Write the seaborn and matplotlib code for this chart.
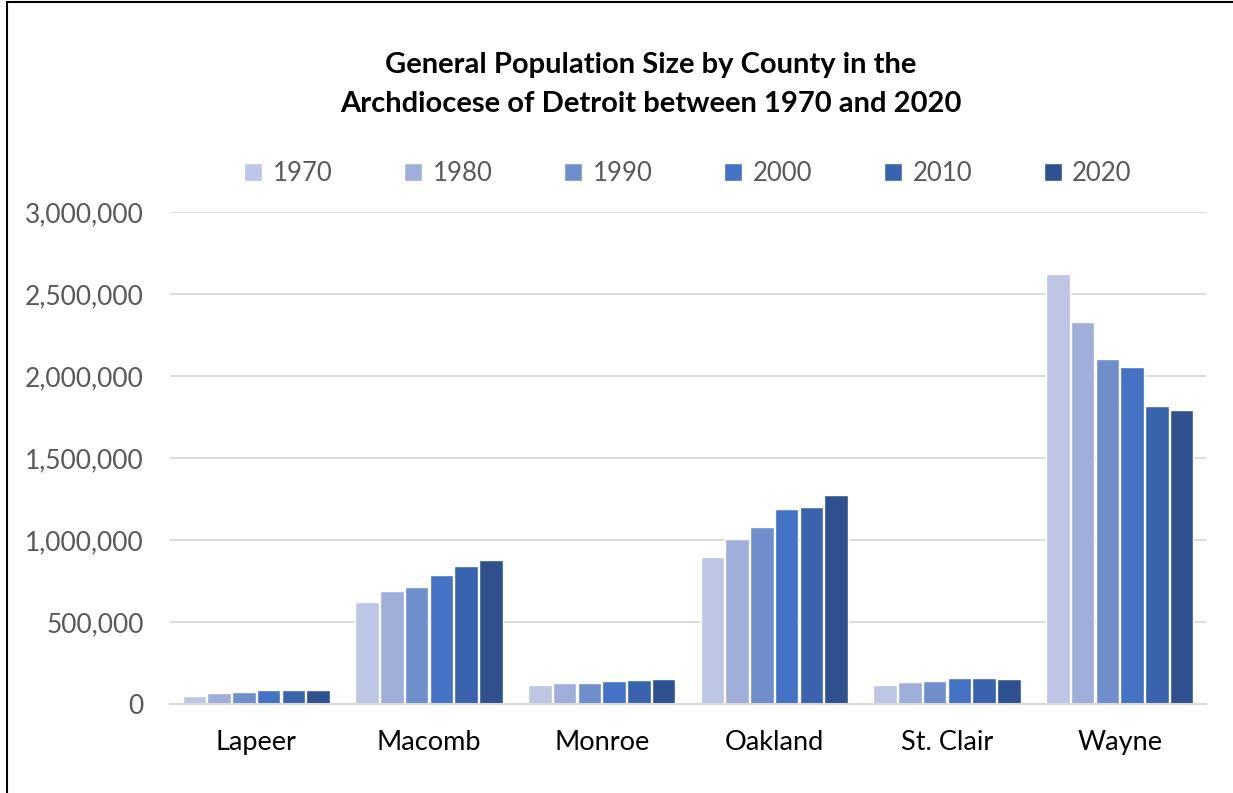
import matplotlib
matplotlib.use("Agg")
import matplotlib.pyplot as plt
import matplotlib.ticker as mticker
import seaborn as sns
import pandas as pd

counties = ["Lapeer", "Macomb", "Monroe", "Oakland", "St. Clair", "Wayne"]
years = ["1970", "1980", "1990", "2000", "2010", "2020"]

pop_1970 = [50000, 620000, 115000, 895000, 115000, 2620000]
pop_1980 = [68000, 690000, 130000, 1005000, 135000, 2332000]
pop_1990 = [73000, 715000, 128000, 1080000, 140000, 2106000]
pop_2000 = [86000, 785000, 142000, 1190000, 160000, 2057000]
pop_2010 = [87000, 840000, 148000, 1200000, 158000, 1816000]
pop_2020 = [87000, 880000, 150000, 1272000, 155000, 1790000]

series = [pop_1970, pop_1980, pop_1990, pop_2000, pop_2010, pop_2020]
rows = []
for yr, vals in zip(years, series):
    for c, v in zip(counties, vals):
        rows.append({"county": c, "year": yr, "population": v})
df = pd.DataFrame(rows)

colors = ["#BDC7E5", "#9FAFDA", "#6F8ECC", "#4472C4", "#3A63AD", "#2F518F"]
palette = dict(zip(years, colors))

sns.set_theme(style="white")
plt.rcParams["font.family"] = ["Lato", "DejaVu Sans"]

fig = plt.figure(figsize=(12.33, 7.93), dpi=100)
ax = fig.add_axes([170 / 1233, 1 - 704 / 793, (1206 - 170) / 1233, (704 - 212) / 793])

sns.barplot(data=df, x="county", y="population", hue="year", order=counties,
            hue_order=years, palette=palette, width=0.86, gap=0.05,
            saturation=1, ax=ax, legend=True)

ax.set_ylim(0, 3000000)
ax.set_xlim(-0.5, len(counties) - 0.5)
ax.yaxis.set_major_locator(mticker.MultipleLocator(500000))
ax.yaxis.set_major_formatter(mticker.FuncFormatter(lambda v, p: f"{int(v):,}"))
ax.grid(axis="y", color="#D9D9D9", linewidth=1.3)
ax.set_axisbelow(True)
ax.set_xlabel("")
ax.set_ylabel("")

for s in ["top", "right", "left"]:
    ax.spines[s].set_visible(False)
ax.spines["bottom"].set_color("#D9D9D9")
ax.spines["bottom"].set_linewidth(1.5)

ax.tick_params(axis="y", length=0, pad=19, labelsize=19, labelcolor="#595959")
ax.tick_params(axis="x", which="major", length=0, pad=19, labelsize=19.5, labelcolor="#000000")
ax.set_xticks([i - 0.5 for i in range(len(counties) + 1)], minor=True)
ax.tick_params(axis="x", which="minor", length=9, width=1.5, color="#D9D9D9")

leg = ax.legend(loc="center", bbox_to_anchor=(0.5, 1.078), ncol=6, frameon=False,
                handlelength=0.7, handleheight=0.7, handletextpad=0.4,
                columnspacing=2.8, fontsize=18.5)
for t in leg.get_texts():
    t.set_color("#595959")

fig.text(651 / 1233, 1 - 65 / 793, "General Population Size by County in the",
         ha="center", va="center", fontsize=21, fontweight="bold", color="black")
fig.text(651 / 1233, 1 - 104 / 793, "Archdiocese of Detroit between 1970 and 2020",
         ha="center", va="center", fontsize=21, fontweight="bold", color="black")

# chart border (cropped screenshot: left and top edges visible)
fig.add_artist(plt.Line2D([6.5 / 1233, 6.5 / 1233], [0, 1 - 2 / 793],
                          transform=fig.transFigure, color="black", linewidth=1.5))
fig.add_artist(plt.Line2D([6.5 / 1233, 1], [1 - 2 / 793, 1 - 2 / 793],
                          transform=fig.transFigure, color="black", linewidth=1.5))

fig.savefig("out.png", dpi=100, facecolor="white")
